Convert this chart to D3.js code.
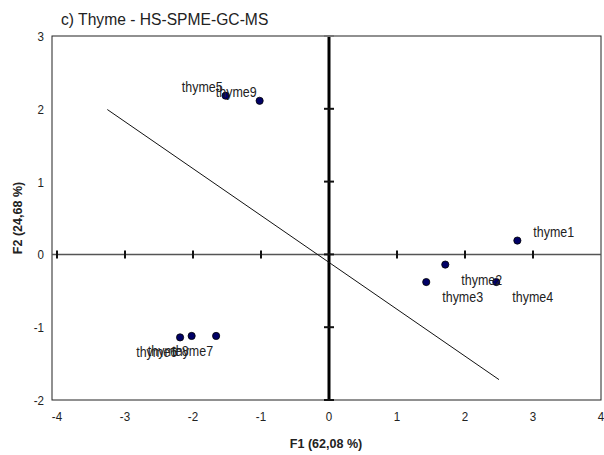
<!DOCTYPE html>
<html><head><meta charset="utf-8">
<script src="https://cdn.jsdelivr.net/npm/d3@7"></script>
<style>
body{margin:0;background:#fff;}
text{font-family:"Liberation Sans Narrow","Arial Narrow","Liberation Sans",Arial,sans-serif;}
</style></head>
<body><svg id="c" width="604" height="455"></svg>
<script>
const names = ["thyme1","thyme2","thyme3","thyme4","thyme5","thyme6","thyme7","thyme8","thyme9"];
const f1 = [2.77, 1.71, 1.43, 2.46, -1.52, -2.19, -1.66, -2.02, -1.02];
const f2 = [0.19, -0.14, -0.38, -0.38, 2.18, -1.14, -1.12, -1.12, 2.11];
// label placement: r-up, r-down, l-up, l-down
const labelPos = ["ru","rd","rd","rd","lu","ld","ld","ld","lu"];
const xTicks = [-4,-3,-2,-1,0,1,2,3,4];
const yTicks = [-2,-1,0,1,2,3];
const lineX = [-3.26, 2.5];
const lineY = [1.99, -1.72];

const svg = d3.select("#c");
const x = d3.scaleLinear().domain([-4,4]).range([57,601]);
const y = d3.scaleLinear().domain([-2,3]).range([400,36]);
const pL = 52, pR = 601, pT = 36, pB = 400;
const SX = 0.86;
const nar = (sel, px, py, s=SX) => sel.attr("transform", (d,i) => `translate(${px(d,i)},${py(d,i)}) scale(${s},1)`);

// frame
svg.append("rect").attr("x",pL).attr("y",pT).attr("width",pR-pL).attr("height",pB-pT)
  .attr("fill","none").attr("stroke","#222").attr("stroke-width",1);

// horizontal axis at y=0
svg.append("line").attr("x1",pL).attr("x2",pR).attr("y1",y(0)).attr("y2",y(0))
  .attr("stroke","#555").attr("stroke-width",1.5);
svg.selectAll(".xt").data(xTicks.filter(d=>d!==4)).enter().append("line")
  .attr("x1",d=>x(d)).attr("x2",d=>x(d)).attr("y1",y(0)-4).attr("y2",y(0)+4)
  .attr("stroke","#111").attr("stroke-width",2);

// vertical axis at x=0
svg.append("line").attr("x1",x(0)).attr("x2",x(0)).attr("y1",pT).attr("y2",pB)
  .attr("stroke","#000").attr("stroke-width",3);
svg.selectAll(".yt").data(yTicks).enter().append("line")
  .attr("x1",x(0)-5).attr("x2",x(0)+5).attr("y1",d=>y(d)).attr("y2",d=>y(d))
  .attr("stroke",d=>d===3?"#777":"#111").attr("stroke-width",2);

// tick labels
nar(svg.selectAll(".xl").data(xTicks).enter().append("text"), d=>x(d), ()=>421)
  .attr("text-anchor","middle").attr("font-size",13.5).attr("fill","#222").text(d=>d);
nar(svg.selectAll(".yl").data(yTicks).enter().append("text"), ()=>44, d=>y(d)+5)
  .attr("text-anchor","end").attr("font-size",13.5).attr("fill","#222").text(d=>d);

// axis titles
svg.append("text").attr("transform","translate(326,448) scale(0.93,1)").attr("text-anchor","middle")
  .attr("font-size",13.5).attr("font-weight","bold").attr("fill","#222").text("F1 (62,08 %)");
svg.append("text").attr("transform","translate(22,218) rotate(-90) scale(0.93,1)").attr("text-anchor","middle")
  .attr("font-size",13.5).attr("font-weight","bold").attr("fill","#222").text("F2 (24,68 %)");

// title
svg.append("text").attr("transform","translate(61,25) scale(0.92,1)").attr("font-size",17).attr("fill","#222")
  .text("c) Thyme - HS-SPME-GC-MS");

// diagonal line
svg.append("line").attr("x1",x(lineX[0])).attr("y1",y(lineY[0]))
  .attr("x2",x(lineX[1])).attr("y2",y(lineY[1])).attr("stroke","#111").attr("stroke-width",1);

// points
const pts = names.map((n,i)=>({n, a:f1[i], b:f2[i], p:labelPos[i]}));
svg.selectAll(".pt").data(pts).enter().append("circle")
  .attr("cx",d=>x(d.a)).attr("cy",d=>y(d.b)).attr("r",3.6)
  .attr("fill","#000066").attr("stroke","#000").attr("stroke-width",0.8);
nar(svg.selectAll(".lb").data(pts).enter().append("text"),
    d=>x(d.a) + (d.p[0]==="r"?16:-3), d=>y(d.b) + (d.p[1]==="u"?-4:20))
  .attr("text-anchor",d=>d.p[0]==="r"?"start":"end")
  .attr("font-size",14.5).attr("fill","#222").text(d=>d.n);
</script></body></html>
